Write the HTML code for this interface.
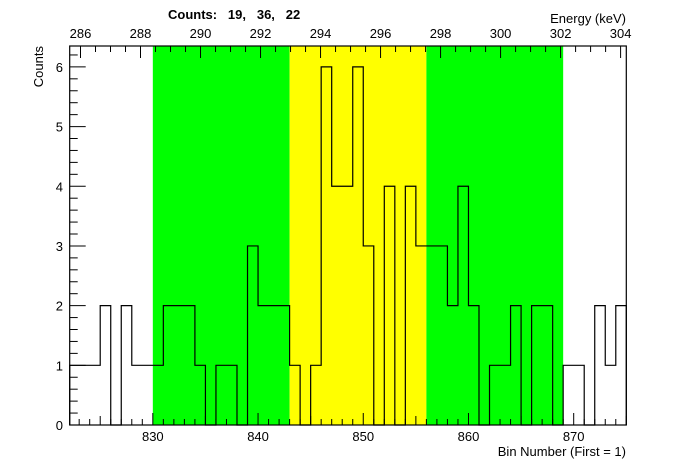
<!DOCTYPE html>
<html><head><meta charset="utf-8"><style>
body{margin:0;background:#fff}
svg{display:block;font-family:"Liberation Sans",sans-serif}
</style></head><body>
<svg id="chart" width="696" height="472">
<g id="bands"></g><g id="hist"></g><g id="axes"></g>
</svg>
<script>
const binStart = 822;
const binValues = [1,1,1,2,0,2,1,1,1,2,2,2,1,0,1,1,0,3,2,2,2,1,0,1,6,4,4,6,3,0,4,0,4,3,3,3,2,4,2,0,1,1,2,0,2,2,0,1,1,0,2,1,2];
const bandStarts = [830,843,856];
const bandEnds = [843,856,869];
const bandColors = ['#00ff00','#ffff00','#00ff00'];
const bandCounts = [19,36,22];
const bottomTicks = [830,840,850,860,870];
const topTicks = [286,288,290,292,294,296,298,300,302,304];
const yTicks = [0,1,2,3,4,5,6];

const L=69.7,R=626.3,T=46,B=425;
const xmin=822.1,xmax=875.0,ymax=6.35;
const emin=285.64,emax=304.19;
const X=v=>L+(v-xmin)/(xmax-xmin)*(R-L);
const E=v=>L+(v-emin)/(emax-emin)*(R-L);
const Y=v=>B-v/ymax*(B-T);
const NS='http://www.w3.org/2000/svg';
function mk(tag,attrs,parent){const e=document.createElementNS(NS,tag);for(const k in attrs)e.setAttribute(k,attrs[k]);parent.appendChild(e);return e;}
const bands=document.getElementById('bands'),hist=document.getElementById('hist'),axes=document.getElementById('axes');

bandStarts.forEach((s,i)=>{
  const r=mk('rect',{x:X(s),y:T,width:X(bandEnds[i])-X(s),height:B-T,fill:bandColors[i]},bands);
  
  
});

let d='M'+L+','+B;
binValues.forEach((v,i)=>{
  const x0=Math.max(L,X(binStart+i)),x1=Math.min(R,X(binStart+i+1));
  d+=' L'+x0+','+Y(v)+' L'+x1+','+Y(v);
});
d+=' L'+R+','+B;
const p=mk('path',{d:d,fill:'none',stroke:'#000','stroke-width':1.2},hist);



const fr=mk('rect',{x:L,y:T,width:R-L,height:B-T,fill:'none',stroke:'#000','stroke-width':1.2},axes);



// bottom ticks
for(let v=823;v<=875;v++){
  const len=v%10===0?12:(v%5===0?9:6);
  mk('line',{x1:X(v),x2:X(v),y1:B,y2:B-len,stroke:'#000'},axes);
}
bottomTicks.forEach(v=>{
  const t=mk('text',{x:X(v),y:441,'font-size':13,'text-anchor':'middle'},axes);
  t.textContent=v;
  
  
});
// top ticks
for(let v=286;v<=304;v+=0.5){
  const len=(Math.round(v*2)%4===0)?12:6;
  mk('line',{x1:E(v),x2:E(v),y1:T,y2:T+len,stroke:'#000'},axes);
}
topTicks.forEach(v=>{
  const t=mk('text',{x:E(v),y:38,'font-size':13,'text-anchor':'middle'},axes);
  t.textContent=v;
  
  
});
// y ticks
for(let k=0;k<=31;k++){
  const v=k*0.2;
  if(v>ymax)break;
  const len=k%5===0?16:8;
  mk('line',{x1:L,x2:L+len,y1:Y(v),y2:Y(v),stroke:'#000'},axes);
}
yTicks.forEach(v=>{
  const t=mk('text',{x:63,y:Y(v)+5,'font-size':13,'text-anchor':'end'},axes);
  t.textContent=v;
  
  
});

const xt=mk('text',{x:626,y:456,'font-size':13,'text-anchor':'end'},axes);
xt.textContent='Bin Number (First = 1)';


const et=mk('text',{x:626,y:23,'font-size':13,'text-anchor':'end'},axes);
et.textContent='Energy (keV)';


const yt=mk('text',{x:0,y:0,'font-size':13,'text-anchor':'end',transform:'translate(43,46) rotate(-90)'},axes);
yt.textContent='Counts';


const ct=mk('text',{x:168,y:19,'font-size':13,'font-weight':'bold'},axes);
ct.setAttribute('xml:space','preserve');
ct.textContent='Counts:   '+bandCounts.join(',   ');
ct.style.whiteSpace='pre';


</script>
</body></html>
